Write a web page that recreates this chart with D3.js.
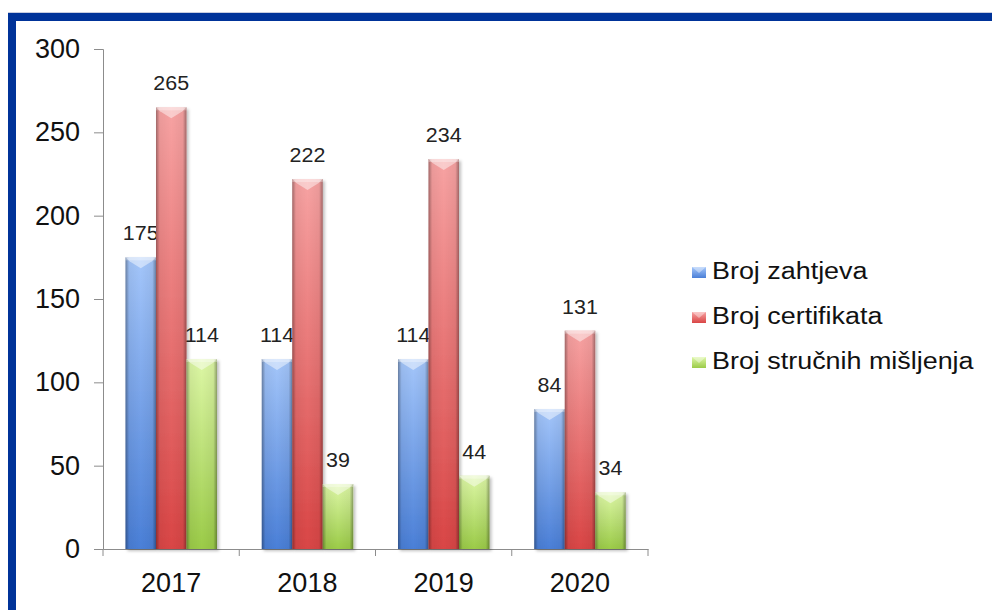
<!DOCTYPE html>
<html><head><meta charset="utf-8">
<script src="https://cdn.jsdelivr.net/npm/d3@7/dist/d3.min.js"></script>
<style>body{margin:0;background:#fff;}svg{display:block;font-family:"Liberation Sans",Arial,sans-serif;}</style>
</head><body>
<script>
const categories = ["2017","2018","2019","2020"];
const seriesNames = ["Broj zahtjeva","Broj certifikata","Broj stručnih mišljenja"];
const zahtjeva = [175,114,114,84];
const certifikata = [265,222,234,131];
const misljenja = [114,39,44,34];
const yTicks = [0,50,100,150,200,250,300];

const seriesValues = [zahtjeva, certifikata, misljenja];
const colors = [
  {top:"#a4c6fa", bot:"#4a7fd7"},
  {top:"#f7a3a3", bot:"#d94545"},
  {top:"#ddf7a6", bot:"#9bcb48"}
];

const W=992,H=610;
const svg=d3.select("body").append("svg").attr("width",W).attr("height",H);
const defs=svg.append("defs");
colors.forEach((c,i)=>{
  const g=defs.append("linearGradient").attr("id","v"+i).attr("x1",0).attr("y1",0).attr("x2",0).attr("y2",1);
  g.append("stop").attr("offset","0%").attr("stop-color",c.top);
  g.append("stop").attr("offset","100%").attr("stop-color",c.bot);
});
const hg=defs.append("linearGradient").attr("id","edges").attr("x1",0).attr("y1",0).attr("x2",1).attr("y2",0);
[[0,0.35],[0.12,0.05],[0.5,0],[0.88,0.05],[1,0.35]].forEach(([o,a])=>hg.append("stop").attr("offset",o).attr("stop-color","#000").attr("stop-opacity",a));
const f=defs.append("filter").attr("id","sh").attr("x","-20%").attr("y","-5%").attr("width","150%").attr("height","115%");
f.append("feDropShadow").attr("dx",2).attr("dy",2).attr("stdDeviation",1.5).attr("flood-color","#000").attr("flood-opacity",0.25);

// frame
svg.append("rect").attr("x",8).attr("y",12).attr("width",W-8).attr("height",1).attr("fill","#c8cde0");
svg.append("rect").attr("x",8).attr("y",13).attr("width",W-8).attr("height",8).attr("fill","#003399");
svg.append("rect").attr("x",8).attr("y",13).attr("width",8).attr("height",H-13).attr("fill","#003399");

const x=d3.scaleBand().domain(categories).range([103,648]).padding(0);
const xs=d3.scaleBand().domain(d3.range(3)).range([22.5,114]).padding(0);
const y=d3.scaleLinear().domain([0,300]).range([549,49]);

// y axis
const ya=svg.append("g").attr("transform","translate(103,0)")
  .call(d3.axisLeft(y).tickValues(yTicks).tickSize(9).tickPadding(14));
ya.select(".domain").attr("stroke","#8c8c8c");
ya.selectAll(".tick line").attr("stroke","#8c8c8c");
ya.selectAll(".tick text").attr("font-size","27px").attr("fill","#111").attr("font-family","'Liberation Sans',Arial,sans-serif");

// x axis
const xa=svg.append("g").attr("transform","translate(0,549)")
  .call(d3.axisBottom(x).tickSize(0).tickPadding(24));
xa.select(".domain").attr("stroke","#8c8c8c");
xa.selectAll(".tick text").attr("font-size","27px").attr("fill","#111").attr("font-family","'Liberation Sans',Arial,sans-serif");
xa.selectAll(".sep").data(d3.range(categories.length+1)).enter().append("line")
  .attr("x1",i=>x.range()[0]+i*x.bandwidth()).attr("x2",i=>x.range()[0]+i*x.bandwidth())
  .attr("y1",0).attr("y2",7).attr("stroke","#8c8c8c");

// bars
const rows=[];
categories.forEach((c,ci)=>seriesValues.forEach((vals,si)=>rows.push({c,si,v:vals[ci]})));
const bars=svg.append("g").selectAll("g").data(rows).enter().append("g");
bars.each(function(d){
  const g=d3.select(this);
  const x0=x(d.c)+xs(d.si), w=xs.bandwidth(), top=y(d.v), h=y(0)-top, x1=x0+w, xc=x0+w/2;
  g.append("rect").attr("x",x0).attr("y",top).attr("width",w).attr("height",h).attr("fill",`url(#v${d.si})`).attr("filter","url(#sh)");
  g.append("rect").attr("x",x0).attr("y",top).attr("width",w).attr("height",h).attr("fill","url(#edges)");
  g.append("polygon").attr("points",[[x0,top],[x1,top],[x1-4,top+4],[xc,top+11],[x0+4,top+4]].map(p=>p.join(",")).join(" "))
    .attr("fill","#fff").attr("opacity",0.45);
  g.append("rect").attr("x",x0).attr("y",top).attr("width",w).attr("height",3).attr("fill","#fff").attr("opacity",0.3);
  g.append("text").attr("transform",`translate(${xc},${top-17}) scale(1.1,1)`).attr("text-anchor","middle")
    .attr("font-size","19.5px").attr("fill","#222").text(d.v);
});

// legend
const lg=svg.append("g");
seriesNames.forEach((n,i)=>{
  const yy=272+i*45;
  lg.append("rect").attr("x",692).attr("y",yy-5).attr("width",14).attr("height",11).attr("fill",`url(#v${i})`);
  lg.append("polygon").attr("points",`692,${yy-5} 706,${yy-5} 699,${yy+1}`).attr("fill","#fff").attr("opacity",0.4);
  lg.append("text").attr("transform",`translate(712,${yy+7}) scale(1.17,1)`).attr("font-size","23px").attr("fill","#111").text(n);
});
</script>
</body></html>
